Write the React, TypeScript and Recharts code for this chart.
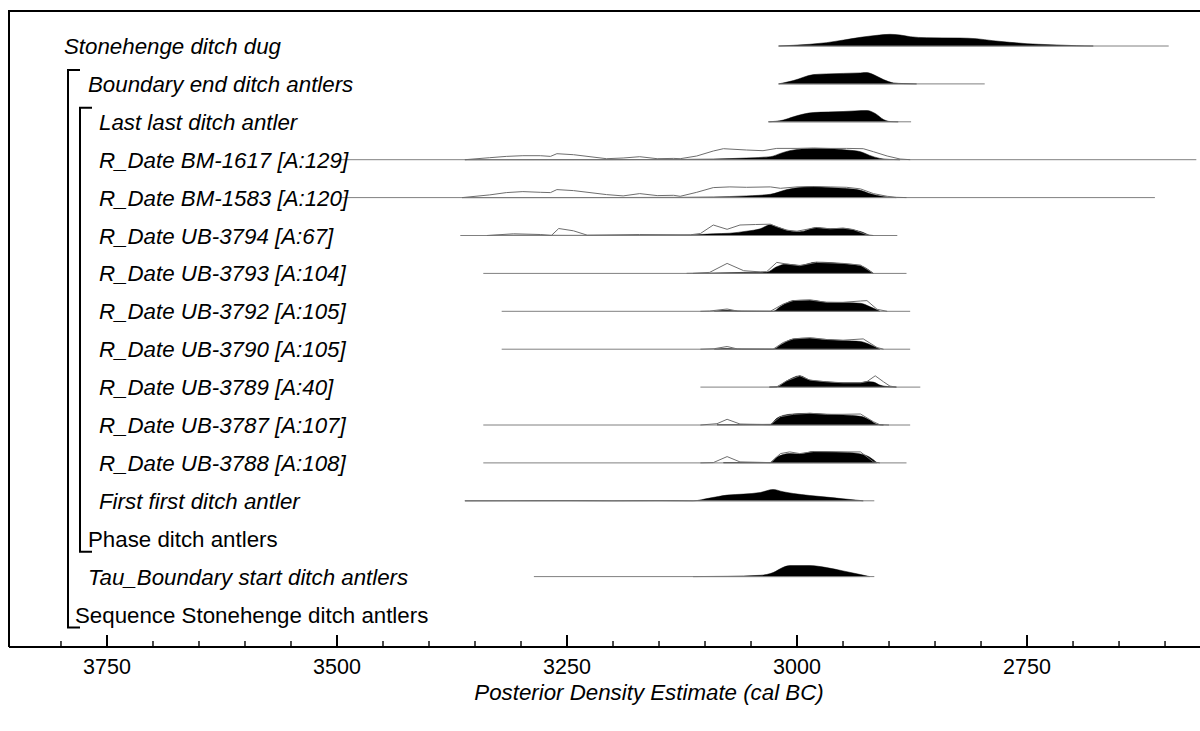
import React from "react";
import { Area, ComposedChart, Line, XAxis, YAxis } from "recharts";

type Pt = [number, number];

// row labels, top to bottom
const rowLabels = [
  "Stonehenge ditch dug",
  "Boundary end ditch antlers",
  "Last last ditch antler",
  "R_Date BM-1617 [A:129]",
  "R_Date BM-1583 [A:120]",
  "R_Date UB-3794 [A:67]",
  "R_Date UB-3793 [A:104]",
  "R_Date UB-3792 [A:105]",
  "R_Date UB-3790 [A:105]",
  "R_Date UB-3789 [A:40]",
  "R_Date UB-3787 [A:107]",
  "R_Date UB-3788 [A:108]",
  "First first ditch antler",
  "Phase ditch antlers",
  "Tau_Boundary start ditch antlers",
  "Sequence Stonehenge ditch antlers",
];
const rowItalic = [true, true, true, true, true, true, true, true, true, true, true, true, true, false, true, false];
const rowIndent = [64, 88, 99, 99, 99, 99, 99, 99, 99, 99, 99, 99, 99, 88, 88, 75];

const majorTicks = [3750, 3500, 3250, 3000, 2750];
const allTicks = [
  3800, 3750, 3700, 3650, 3600, 3550, 3500, 3450, 3400, 3350, 3300, 3250, 3200,
  3150, 3100, 3050, 3000, 2950, 2900, 2850, 2800, 2750, 2700, 2650, 2600,
];

// [from, to] cal BC of each row's base line
const dugRange: Pt = [3020, 2596];
const endRange: Pt = [3020, 2796];
const lastRange: Pt = [3031, 2876];
const bm1617Range: Pt = [3497, 2566];
const bm1583Range: Pt = [3497, 2611];
const ub3794Range: Pt = [3366, 2891];
const ub3793Range: Pt = [3341, 2881];
const ub3792Range: Pt = [3321, 2877];
const ub3790Range: Pt = [3321, 2877];
const ub3789Range: Pt = [3105, 2866];
const ub3787Range: Pt = [3341, 2877];
const ub3788Range: Pt = [3341, 2881];
const firstRange: Pt = [3361, 2916];
const tauRange: Pt = [3286, 2916];

// posterior (filled) and likelihood (outline) densities, [cal BC, relative height]
const dugPost: Pt[] = [[3020, 0], [3004, 0.7], [2968, 3.3], [2931, 8.7], [2913, 10.7], [2899, 11.7], [2888, 11], [2877, 9.3], [2859, 8.3], [2823, 8], [2805, 7.3], [2787, 5.3], [2769, 3.7], [2750, 2.3], [2725, 1.3], [2696, 0.3], [2678, 0]];
const endPost: Pt[] = [[3020, 0], [3004, 3.3], [2982, 9.3], [2968, 10], [2931, 11], [2924, 11.3], [2917, 9.3], [2906, 4.3], [2895, 1], [2884, 0.3], [2870, 0]];
const lastPost: Pt[] = [[3031, 0], [3015, 1.7], [3004, 5], [2982, 9.3], [2950, 10.3], [2924, 11.3], [2915, 8.3], [2906, 2.3], [2899, 0.3], [2890, 0]];

const bm1617Like: Pt[] = [[3361, 0], [3334, 2], [3316, 3.3], [3298, 4], [3279, 4], [3268, 3.3], [3261, 6], [3243, 5], [3225, 3], [3207, 1], [3189, 1.7], [3171, 3], [3152, 1], [3134, 1.3], [3127, 1], [3109, 3.7], [3091, 8.7], [3080, 11], [3055, 9.7], [3037, 9], [3022, 11.3], [3000, 11.3], [2982, 11.7], [2964, 11.3], [2946, 11.3], [2928, 11], [2917, 8], [2902, 3.7], [2888, 0.7], [2877, 0]];
const bm1617Post: Pt[] = [[3361, 0], [3200, 0.1], [3127, 0.3], [3091, 0.7], [3055, 1.7], [3029, 3], [3018, 6.3], [3008, 9], [2982, 11.3], [2964, 11], [2946, 9.7], [2931, 8], [2921, 4.3], [2910, 1.3], [2899, 0.3], [2888, 0]];

const bm1583Like: Pt[] = [[3364, 0], [3334, 2.7], [3316, 5], [3298, 6], [3279, 5.3], [3268, 5], [3261, 8], [3243, 7], [3225, 5], [3207, 3], [3189, 1.7], [3171, 4], [3152, 2], [3134, 2.3], [3127, 1.3], [3109, 5.3], [3091, 10], [3073, 10.7], [3055, 10.3], [3029, 10.7], [3018, 9.3], [3000, 10.7], [2982, 11], [2964, 10.7], [2946, 10.3], [2931, 8.7], [2917, 4], [2902, 1.3], [2892, 0.3], [2881, 0]];
const bm1583Post: Pt[] = [[3364, 0], [3200, 0.1], [3127, 0.3], [3091, 0.7], [3055, 1.7], [3029, 3.3], [3011, 8], [2982, 11], [2964, 10], [2946, 9], [2931, 7.3], [2921, 4], [2906, 1], [2892, 0]];

const ub3794Like: Pt[] = [[3337, 0], [3308, 1.7], [3279, 1], [3267, 0], [3259, 7], [3243, 4.7], [3228, 0.3], [3171, 1], [3116, 0.7], [3105, 2], [3091, 10.5], [3076, 6.2], [3062, 10.5], [3045, 11], [3029, 11.3], [3022, 8.7], [3011, 5.3], [3000, 4.3], [2979, 8], [2964, 6.7], [2950, 7.3], [2939, 6], [2924, 0.7], [2917, 0]];
const ub3794Post: Pt[] = [[3337, 0], [3300, 0.4], [3250, 0.2], [3180, 0.2], [3127, 0.3], [3105, 1], [3091, 1.7], [3073, 2.3], [3055, 4.3], [3040, 6.7], [3029, 10.7], [3022, 8.7], [3011, 5.3], [2997, 3.7], [2979, 8], [2964, 6.7], [2950, 7.3], [2939, 5.7], [2928, 3], [2921, 0]];

const ub3793Like: Pt[] = [[3113, 0], [3095, 1], [3076, 10], [3058, 2.7], [3040, 1.5], [3033, 1.7], [3022, 11], [3011, 9.3], [2997, 7.7], [2979, 11], [2950, 10], [2931, 8.3], [2917, 0]];
const ub3793Post: Pt[] = [[3120, 0], [3095, 0.3], [3058, 1], [3033, 1.3], [3022, 6.7], [3011, 9.3], [2997, 8], [2979, 11.3], [2950, 9.7], [2931, 7.7], [2917, 0]];

const ub3792Like: Pt[] = [[3105, 0], [3095, 0.3], [3076, 2.3], [3065, 0.3], [3029, 0], [3015, 7.3], [3004, 10.7], [2986, 11.3], [2968, 9], [2950, 9], [2931, 10.3], [2924, 10.7], [2913, 2], [2902, 0]];
const ub3792Post: Pt[] = [[3090, 0], [3076, 1], [3060, 0], [3026, 0], [3018, 4.7], [3004, 10.7], [2986, 11.3], [2968, 9], [2950, 8.7], [2931, 8], [2921, 4.7], [2910, 0]];

const ub3790Like: Pt[] = [[3105, 0], [3090, 0.5], [3076, 2.7], [3065, 0.3], [3026, 0], [3015, 6.7], [3004, 10.3], [2986, 11.3], [2968, 9.7], [2950, 9], [2928, 10.3], [2913, 1.7], [2906, 0]];
const ub3790Post: Pt[] = [[3090, 0], [3076, 0.8], [3060, 0], [3026, 0], [3018, 4.3], [3004, 10.3], [2986, 11.3], [2968, 9.7], [2950, 8.7], [2931, 7.7], [2921, 4.7], [2910, 0]];

const ub3789Like: Pt[] = [[3030, 0], [3022, 0.3], [3011, 6.3], [2997, 11.3], [2986, 7], [2968, 5.3], [2950, 4.3], [2931, 4.3], [2924, 5.5], [2915, 11.3], [2906, 5.3], [2899, 1], [2892, 0]];
const ub3789Post: Pt[] = [[3030, 0], [3022, 0.3], [3011, 6.3], [2997, 11.3], [2986, 7], [2968, 5.3], [2950, 4.3], [2931, 4.3], [2924, 5.5], [2917, 5], [2910, 2], [2899, 0.3], [2892, 0]];

const ub3787Like: Pt[] = [[3105, 0], [3087, 1.3], [3076, 5.7], [3062, 1], [3029, 0.3], [3018, 8.3], [3004, 10.7], [2986, 11.7], [2968, 10.7], [2950, 10.7], [2931, 11], [2917, 3.3], [2910, 0.3], [2900, 0]];
const ub3787Post: Pt[] = [[3087, 0.3], [3029, 0.7], [3022, 6.7], [3008, 10.7], [2986, 11.7], [2968, 10.7], [2950, 10], [2931, 8.7], [2921, 5], [2913, 0.7], [2906, 0]];

const ub3788Like: Pt[] = [[3105, 0], [3091, 0.3], [3076, 6.3], [3062, 1], [3029, 0.3], [3018, 9.3], [3008, 11], [2997, 9.3], [2982, 11.3], [2950, 11], [2931, 11], [2917, 1], [2910, 0]];
const ub3788Post: Pt[] = [[3080, 0.3], [3029, 0.3], [3022, 5.7], [3008, 9.3], [2997, 9], [2982, 11.3], [2950, 10.7], [2931, 9], [2921, 5.7], [2913, 0]];

const firstPost: Pt[] = [[3361, 0], [3250, 0.2], [3200, 0], [3150, 0.2], [3113, 0], [3095, 2.7], [3076, 5.7], [3058, 6.7], [3040, 8.3], [3026, 11.3], [3015, 9], [3004, 7.3], [2986, 5.3], [2968, 3.7], [2950, 2], [2928, 0]];
const tauPost: Pt[] = [[3113, 0], [3076, 0.3], [3040, 1.3], [3026, 4], [3015, 9.3], [3008, 11], [2986, 11], [2968, 9], [2950, 5.7], [2931, 2], [2921, 0]];

// which row each curve belongs to
const ranges: [number, Pt][] = [
  [0, dugRange], [1, endRange], [2, lastRange], [3, bm1617Range], [4, bm1583Range],
  [5, ub3794Range], [6, ub3793Range], [7, ub3792Range], [8, ub3790Range], [9, ub3789Range],
  [10, ub3787Range], [11, ub3788Range], [12, firstRange], [14, tauRange],
];
const posteriors: [number, Pt[]][] = [
  [0, dugPost], [1, endPost], [2, lastPost], [3, bm1617Post], [4, bm1583Post],
  [5, ub3794Post], [6, ub3793Post], [7, ub3792Post], [8, ub3790Post], [9, ub3789Post],
  [10, ub3787Post], [11, ub3788Post], [12, firstPost], [14, tauPost],
];
const likelihoods: [number, Pt[]][] = [
  [3, bm1617Like], [4, bm1583Like], [5, ub3794Like], [6, ub3793Like], [7, ub3792Like],
  [8, ub3790Like], [9, ub3789Like], [10, ub3787Like], [11, ub3788Like],
];

const W = 1200;
const H = 731;
const TOP = 11;
const LEFT = 9;
const BOTTOM = 647;
const ROW0 = 46;
const ROW_GAP = 37.9;
const FONT = "'Liberation Sans', Arial, sans-serif";
const FONT_SIZE = 22.3;

const rowY = (i: number) => ROW0 + ROW_GAP * i;
const rowBase = (i: number) => BOTTOM - rowY(i);

// ticks point up into the plot, label below the axis line
function YearTick(props: any) {
  const { x, payload } = props;
  const major = majorTicks.includes(payload.value);
  return (
    <g>
      <line x1={x} x2={x} y1={BOTTOM} y2={BOTTOM - (major ? 12 : 6)} stroke="#000" strokeWidth={major ? 2 : 1.4} />
      {major && (
        <text x={x} y={BOTTOM + 27} textAnchor="middle" fontSize={21.5} fontFamily={FONT} fill="#000">
          {payload.value}
        </text>
      )}
    </g>
  );
}

function Bracket({ x, top, bottom }: { x: number; top: number; bottom: number }) {
  return (
    <path
      d={`M${x + 12},${top} H${x} V${bottom} H${x + 12}`}
      fill="none"
      stroke="#000"
      strokeWidth={2}
    />
  );
}

export default function App() {
  return (
    <div style={{ position: "relative", width: W, height: H, background: "#fff" }}>
      <style>{"body{margin:0}"}</style>
      <ComposedChart width={W} height={H} margin={{ top: TOP, right: 0, left: LEFT, bottom: 0 }}>
        <XAxis
          dataKey="year"
          type="number"
          domain={[2562, 3856.5]}
          reversed
          allowDataOverflow
          ticks={allTicks}
          interval={0}
          height={H - BOTTOM}
          tickSize={0}
          tickMargin={0}
          tickLine={false}
          axisLine={{ stroke: "#000", strokeWidth: 2 }}
          tick={<YearTick />}
        />
        <YAxis type="number" domain={[0, BOTTOM - TOP]} hide />
        {ranges.map(([row, r]) => (
          <Line
            key={`base-${row}`}
            data={r.map((year) => ({ year, v: rowBase(row) }))}
            dataKey="v"
            stroke="#808080"
            strokeWidth={1}
            dot={false}
            activeDot={false}
            isAnimationActive={false}
          />
        ))}
        {posteriors.map(([row, pts]) => (
          <Area
            key={`post-${row}`}
            data={pts.map(([year, h]) => ({ year, v: [rowBase(row), rowBase(row) + h] }))}
            dataKey="v"
            type="monotone"
            fill="#000"
            fillOpacity={1}
            stroke="#000"
            strokeWidth={0.5}
            dot={false}
            activeDot={false}
            isAnimationActive={false}
          />
        ))}
        {likelihoods.map(([row, pts]) => (
          <Line
            key={`like-${row}`}
            data={pts.map(([year, h]) => ({ year, v: rowBase(row) + h }))}
            dataKey="v"
            type="linear"
            stroke="#6e6e6e"
            strokeWidth={1}
            dot={false}
            activeDot={false}
            isAnimationActive={false}
          />
        ))}
      </ComposedChart>
      <svg
        width={W}
        height={H}
        style={{ position: "absolute", left: 0, top: 0, pointerEvents: "none" }}
      >
        {/* frame: top and left edges of the plot */}
        <path d={`M${W},${TOP} H${LEFT} V${BOTTOM}`} fill="none" stroke="#000" strokeWidth={2} />
        <Bracket x={68} top={rowY(1) - 14} bottom={rowY(15) + 13} />
        <Bracket x={80} top={rowY(2) - 14} bottom={rowY(13) + 13} />
        {rowLabels.map((label, i) => (
          <text
            key={label}
            x={rowIndent[i]}
            y={rowY(i) + 8}
            fontSize={FONT_SIZE}
            fontFamily={FONT}
            fontStyle={rowItalic[i] ? "italic" : "normal"}
            fill="#000"
          >
            {label}
          </text>
        ))}
        <text x={649} y={700} textAnchor="middle" fontSize={FONT_SIZE} fontStyle="italic" fontFamily={FONT} fill="#000">
          Posterior Density Estimate (cal BC)
        </text>
      </svg>
    </div>
  );
}
